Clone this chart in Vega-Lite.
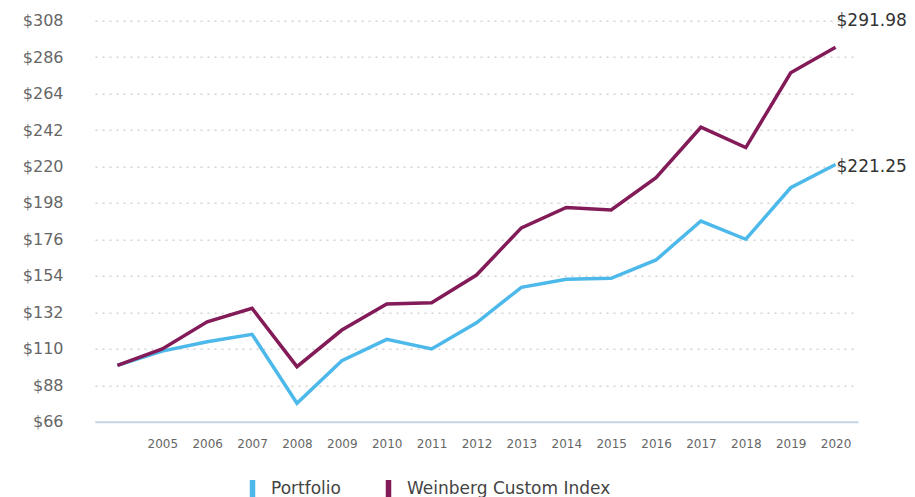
{
  "$schema": "https://vega.github.io/schema/vega-lite/v6.json",
  "autosize": "none",
  "width": 763,
  "height": 401,
  "padding": {"left": 95, "top": 20.7, "right": 57, "bottom": 75.3},
  "background": "white",
  "config": {"view": {"stroke": null}, "font": "DejaVu Sans"},
  "data": {
    "values": [
      {"year": 2004, "series": "Portfolio", "value": 100},
      {"year": 2005, "series": "Portfolio", "value": 108.6},
      {"year": 2006, "series": "Portfolio", "value": 114.3},
      {"year": 2007, "series": "Portfolio", "value": 118.7},
      {"year": 2008, "series": "Portfolio", "value": 77.1},
      {"year": 2009, "series": "Portfolio", "value": 102.8},
      {"year": 2010, "series": "Portfolio", "value": 115.7},
      {"year": 2011, "series": "Portfolio", "value": 109.9},
      {"year": 2012, "series": "Portfolio", "value": 125.7},
      {"year": 2013, "series": "Portfolio", "value": 147.1},
      {"year": 2014, "series": "Portfolio", "value": 151.9},
      {"year": 2015, "series": "Portfolio", "value": 152.5},
      {"year": 2016, "series": "Portfolio", "value": 163.6},
      {"year": 2017, "series": "Portfolio", "value": 187.1},
      {"year": 2018, "series": "Portfolio", "value": 176.1},
      {"year": 2019, "series": "Portfolio", "value": 207.2},
      {"year": 2020, "series": "Portfolio", "value": 221.25, "label": "$221.25"},
      {"year": 2004, "series": "Weinberg Custom Index", "value": 100},
      {"year": 2005, "series": "Weinberg Custom Index", "value": 109.9},
      {"year": 2006, "series": "Weinberg Custom Index", "value": 126.3},
      {"year": 2007, "series": "Weinberg Custom Index", "value": 134.4},
      {"year": 2008, "series": "Weinberg Custom Index", "value": 99.2},
      {"year": 2009, "series": "Weinberg Custom Index", "value": 121.3},
      {"year": 2010, "series": "Weinberg Custom Index", "value": 137.0},
      {"year": 2011, "series": "Weinberg Custom Index", "value": 137.8},
      {"year": 2012, "series": "Weinberg Custom Index", "value": 154.5},
      {"year": 2013, "series": "Weinberg Custom Index", "value": 183.0},
      {"year": 2014, "series": "Weinberg Custom Index", "value": 195.3},
      {"year": 2015, "series": "Weinberg Custom Index", "value": 193.8},
      {"year": 2016, "series": "Weinberg Custom Index", "value": 213.3},
      {"year": 2017, "series": "Weinberg Custom Index", "value": 243.7},
      {"year": 2018, "series": "Weinberg Custom Index", "value": 231.4},
      {"year": 2019, "series": "Weinberg Custom Index", "value": 276.6},
      {"year": 2020, "series": "Weinberg Custom Index", "value": 291.98, "label": "$291.98"}
    ]
  },
  "encoding": {
    "x": {
      "field": "year",
      "type": "quantitative",
      "scale": {"domain": [2003.5, 2020.5], "nice": false, "zero": false},
      "axis": {
        "title": null,
        "values": [2005, 2006, 2007, 2008, 2009, 2010, 2011, 2012, 2013, 2014, 2015, 2016, 2017, 2018, 2019, 2020],
        "format": "d",
        "grid": false,
        "ticks": false,
        "domainColor": "#c8d3e6",
        "domainWidth": 2,
        "labelFontSize": 12,
        "labelColor": "#666666",
        "labelPadding": 17,
        "labelFlush": false
      }
    },
    "y": {
      "field": "value",
      "type": "quantitative",
      "scale": {"domain": [66, 308], "nice": false, "zero": false},
      "axis": {
        "title": null,
        "values": [66, 88, 110, 132, 154, 176, 198, 220, 242, 264, 286, 308],
        "format": "$d",
        "domain": false,
        "ticks": false,
        "grid": true,
        "gridColor": "#d4d4d4",
        "gridDash": [2, 5],
        "gridWidth": 1.5,
        "labelFontSize": 16,
        "labelColor": "#666666",
        "labelPadding": 32
      }
    }
  },
  "layer": [
    {
      "mark": {"type": "line", "strokeWidth": 3.5},
      "encoding": {
        "color": {
          "field": "series",
          "type": "nominal",
          "scale": {"domain": ["Portfolio", "Weinberg Custom Index"], "range": ["#4db9ea", "#821b58"]},
          "legend": {
            "title": null,
            "orient": "none",
            "direction": "horizontal",
            "legendX": 146.5,
            "legendY": 457,
            "symbolType": "M0,-1.1V1.6",
            "symbolSize": 256,
            "symbolStrokeWidth": 5.5,
            "labelFontSize": 17,
            "labelColor": "#444444",
            "labelOffset": 7.5,
            "labelLimit": 400,
            "columnPadding": 36
          }
        }
      }
    },
    {
      "transform": [{"filter": "datum.series === 'Weinberg Custom Index' && datum.year === 2020"}],
      "mark": {"type": "text", "align": "left", "baseline": "middle", "dx": 1, "dy": -26, "fontSize": 17, "color": "#333333"},
      "encoding": {"text": {"field": "label"}}
    },
    {
      "transform": [{"filter": "datum.series === 'Portfolio' && datum.year === 2020"}],
      "mark": {"type": "text", "align": "left", "baseline": "middle", "dx": 1, "dy": 3, "fontSize": 17, "color": "#333333"},
      "encoding": {"text": {"field": "label"}}
    }
  ]
}
